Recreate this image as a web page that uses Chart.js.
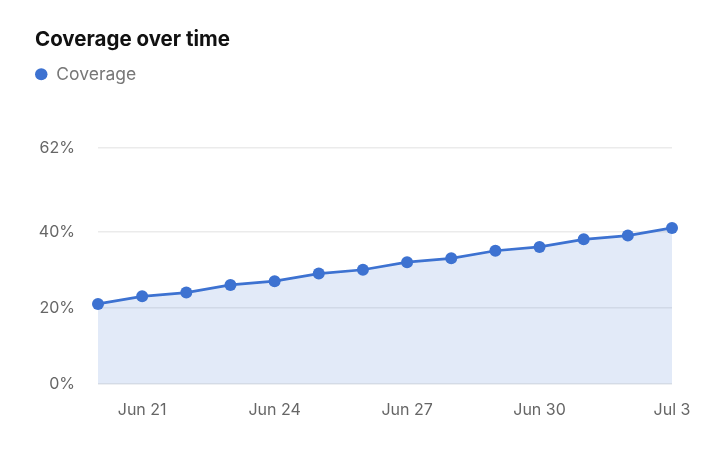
<!DOCTYPE html>
<html>
<head>
<meta charset="utf-8">
<script src="https://cdn.jsdelivr.net/npm/chart.js@4"></script>
<style>
  html, body { margin: 0; padding: 0; background: #fff; }
  #wrap { width: 720px; height: 472px; }
</style>
</head>
<body>
<div id="wrap"><canvas id="coverageChart" width="720" height="472"></canvas></div>
<script>
const dates = ['Jun 20', 'Jun 21', 'Jun 22', 'Jun 23', 'Jun 24', 'Jun 25', 'Jun 26',
  'Jun 27', 'Jun 28', 'Jun 29', 'Jun 30', 'Jul 1', 'Jul 2', 'Jul 3'];
const coverage = [21, 23, 24, 26, 27, 29, 30, 32, 33, 35, 36, 38, 39, 41];
const yTicks = [0, 20, 40, 62];
const shownDates = ['Jun 21', 'Jun 24', 'Jun 27', 'Jun 30', 'Jul 3'];

// extra space under the legend
const legendGap = {
  id: 'legendGap',
  beforeInit(chart) {
    const fit = chart.legend.fit;
    chart.legend.fit = function () {
      fit.bind(chart.legend)();
      this.height += 55;
    };
  }
};

const ctx = document.getElementById('coverageChart').getContext('2d');
new Chart(ctx, {
  type: 'line',
  data: {
    labels: dates,
    datasets: [{
      label: 'Coverage',
      data: coverage,
      borderColor: '#3d72d1',
      backgroundColor: '#3d72d1',
      borderWidth: 2.75,
      pointRadius: 6,
      pointHoverRadius: 6,
      pointBackgroundColor: '#3d72d1',
      pointBorderWidth: 0,
      tension: 0,
      fill: { target: 'origin', above: 'rgba(61, 114, 209, 0.15)' }
    }]
  },
  plugins: [legendGap],
  options: {
    responsive: false,
    animation: false,
    layout: { padding: { left: 35, right: 48, top: 0, bottom: 35 } },
    plugins: {
      title: {
        display: true,
        text: 'Coverage over time',
        align: 'start',
        color: '#111',
        font: { family: 'Inter', size: 20.5, weight: '700' },
        padding: { top: 28, bottom: 13 }
      },
      legend: {
        align: 'start',
        labels: {
          usePointStyle: true,
          pointStyle: 'circle',
          pointStyleWidth: 12.5,
          boxHeight: 8.5,
          color: '#777',
          font: { family: 'Inter', size: 17.5 },
          padding: 0
        }
      },
      tooltip: { enabled: false }
    },
    scales: {
      x: {
        grid: { display: false, drawTicks: false },
        border: { display: false },
        ticks: {
          autoSkip: false,
          maxRotation: 0,
          padding: 17,
          color: '#666',
          font: { family: 'Inter', size: 16 },
          callback: function (val) {
            const lbl = this.getLabelForValue(val);
            return shownDates.includes(lbl) ? lbl : '';
          }
        }
      },
      y: {
        min: 0,
        max: 62,
        afterBuildTicks: axis => { axis.ticks = yTicks.map(v => ({ value: v })); },
        afterFit: axis => { axis.width = 63; },
        grid: {
          drawTicks: false,
          color: ctx => ctx.tick && ctx.tick.value === 0 ? '#dde1e8' : '#ebebeb',
          lineWidth: 1.5
        },
        border: { display: false },
        ticks: {
          padding: 23,
          color: '#666',
          font: { family: 'Inter', size: 16 },
          callback: v => v + '%'
        }
      }
    }
  }
});
</script>
</body>
</html>
